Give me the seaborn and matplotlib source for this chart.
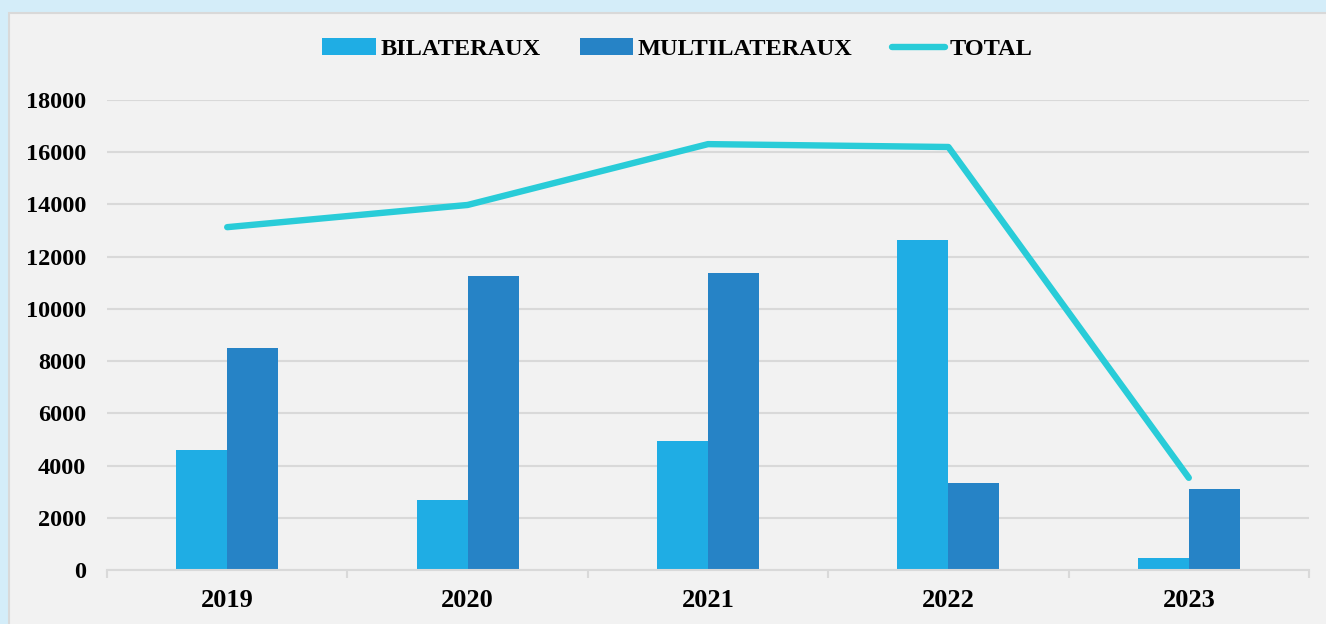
import numpy as np
import pandas as pd
import matplotlib
matplotlib.use('Agg')
import matplotlib.pyplot as plt
from matplotlib.patches import Rectangle
import seaborn as sns

# data
years = ['2019', '2020', '2021', '2022', '2023']
bilateraux = [4600, 2700, 4940, 12640, 460]
multilateraux = [8500, 11260, 11380, 3330, 3100]
total = [13130, 13980, 16310, 16200, 3530]

df = pd.DataFrame({
    'year': years * 2,
    'value': bilateraux + multilateraux,
    'type': ['BILATERAUX'] * len(years) + ['MULTILATERAUX'] * len(years),
})

sns.set_style('white')
plt.rcParams['font.family'] = ['Liberation Serif', 'DejaVu Serif']
plt.rcParams['font.weight'] = 'bold'
plt.rcParams['text.color'] = 'black'
plt.rcParams['xtick.color'] = 'black'
plt.rcParams['ytick.color'] = 'black'

fig = plt.figure(figsize=(13.26, 6.24), dpi=100, facecolor='#D4EDF9')
# inner gray panel
fig.patches.append(Rectangle((9 / 1326, -0.01), 1.0, (624 - 13) / 624 + 0.01,
                             transform=fig.transFigure, facecolor='#F2F2F2',
                             edgecolor='#D9D9D9', linewidth=1.5, zorder=-5))

ax = fig.add_axes([107 / 1326, 54 / 624, 1202 / 1326, 470 / 624])
ax.set_facecolor('none')
ax.set_zorder(2)

sns.barplot(data=df, x='year', y='value', hue='type',
            palette=['#1FADE4', '#2683C6'], width=0.425, gap=0,
            linewidth=0, saturation=1, ax=ax)
sns.lineplot(x=np.arange(len(years)), y=total, color='#29CCD8', linewidth=4.6,
             solid_capstyle='round', label='TOTAL', ax=ax, zorder=3)

ax.set_xlim(-0.5, len(years) - 0.5)
ax.set_ylim(0, 18000)
ax.set_yticks(range(0, 18001, 2000))
ax.set_xlabel('')
ax.set_ylabel('')

ax.set_axisbelow(True)
ax.yaxis.grid(True, color='#D9D9D9', linewidth=1.5)
for s in ['top', 'right', 'left']:
    ax.spines[s].set_visible(False)
ax.spines['bottom'].set_color('#D9D9D9')
ax.spines['bottom'].set_linewidth(1.5)

ax.tick_params(axis='y', length=0, pad=15, labelsize=17.5, labelcolor='black')
ax.tick_params(axis='x', which='major', length=0, pad=14, labelsize=19,
               labelcolor='black')
ax.set_xticks(np.arange(-0.5, len(years)), minor=True)
ax.tick_params(axis='x', which='minor', bottom=True, length=6, width=1.5,
               color='#D9D9D9')
for lbl in ax.get_xticklabels() + ax.get_yticklabels():
    lbl.set_fontweight('bold')

handles, labels = ax.get_legend_handles_labels()
ax.get_legend().remove()
leg = fig.legend(handles, labels, loc='center', bbox_to_anchor=(0.511, 0.921),
                 ncol=3, frameon=False, fontsize=17.5, handlelength=2.2,
                 handleheight=0.7, handletextpad=0.2, columnspacing=1.6)
for t in leg.get_texts():
    t.set_color('black')

fig.savefig('out.png', dpi=100, facecolor=fig.get_facecolor())
